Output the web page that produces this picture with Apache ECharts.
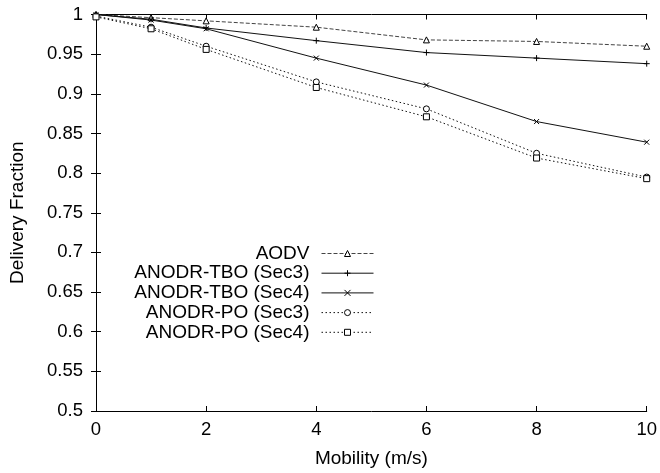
<!DOCTYPE html>
<html><head><meta charset="utf-8">
<script src="https://cdn.jsdelivr.net/npm/echarts@6/dist/echarts.min.js"></script>
<style>html,body{margin:0;padding:0;background:#fff}#c{width:660px;height:473px}</style>
</head><body><div id="c"></div>
<script>
var mobility = [0, 1, 2, 4, 6, 8, 10];
var aodv     = [1.000, 0.996, 0.992, 0.984, 0.968, 0.966, 0.960];
var tboSec3  = [1.000, 0.994, 0.983, 0.967, 0.952, 0.945, 0.938];
var tboSec4  = [1.000, 0.993, 0.982, 0.945, 0.911, 0.865, 0.839];
var poSec3   = [0.998, 0.984, 0.960, 0.915, 0.881, 0.825, 0.795];
var poSec4   = [0.997, 0.982, 0.956, 0.908, 0.871, 0.819, 0.793];
var names = ['AODV','ANODR-TBO (Sec3)','ANODR-TBO (Sec4)','ANODR-PO (Sec3)','ANODR-PO (Sec4)'];

function pts(arr){ return mobility.map(function(x,i){ return [x, arr[i]]; }); }
var FONT = '"Liberation Sans", Arial, sans-serif';
var plusPath = 'path://M5,0L5,10M0,5L10,5';
var crossPath = 'path://M0,0L10,10M10,0L0,10';

function mk(name, arr, sym, size, ltype, lcolor){
  return {
    name: name, type: 'line', data: pts(arr), symbol: sym, symbolSize: size,
    showSymbol: true,
    lineStyle: {color: lcolor, width: 1, type: ltype},
    itemStyle: {color: '#fff', borderColor: '#000', borderWidth: 1},
    emphasis: {disabled: true}, animation: false, z: 3
  };
}

var chart = echarts.init(document.getElementById('c'), null, {renderer: 'canvas'});
var tickCommon = {inside: true, length: 5, lineStyle: {color: '#000'}};
chart.setOption({
  backgroundColor: '#fff',
  animation: false,
  grid: {left: 95, right: 9, top: 14.5, bottom: 59},
  legend: {
    orient: 'vertical', align: 'right', right: 286, top: 244, padding: 0,
    itemWidth: 52, itemHeight: 7.5, itemGap: 0.7,
    itemStyle: {borderWidth: 1},
    lineStyle: {width: 1},
    textStyle: {fontFamily: FONT, fontSize: 19, color: '#000', padding: [0, 7, 0, 0]},
    data: names
  },
  xAxis: [{
    type: 'value', min: 0, max: 10, interval: 2,
    name: 'Mobility (m/s)', nameLocation: 'middle', nameGap: 38,
    nameTextStyle: {fontFamily: FONT, fontSize: 19, color: '#000'},
    axisLine: {lineStyle: {color: '#000', width: 1}},
    axisTick: tickCommon, splitLine: {show: false},
    axisLabel: {fontFamily: FONT, fontSize: 18.5, color: '#000', margin: 9}
  },{
    type: 'value', min: 0, max: 10, interval: 2, position: 'top',
    axisLine: {lineStyle: {color: '#000', width: 1}},
    axisTick: tickCommon, splitLine: {show: false}, axisLabel: {show: false}
  }],
  yAxis: [{
    type: 'value', min: 0.5, max: 1, interval: 0.05,
    name: 'Delivery Fraction', nameLocation: 'middle', nameGap: 69,
    nameTextStyle: {fontFamily: FONT, fontSize: 19, color: '#000'},
    axisLine: {show: true, lineStyle: {color: '#000', width: 1}},
    axisTick: {show: true, inside: true, length: 5, lineStyle: {color: '#000'}},
    splitLine: {show: false},
    axisLabel: {fontFamily: FONT, fontSize: 18.5, color: '#000', margin: 13,
      formatter: function(v){ return String(+v.toFixed(2)); }}
  },{
    type: 'value', min: 0.5, max: 1, interval: 0.05, position: 'right',
    axisLine: {show: true, lineStyle: {color: '#000', width: 1}},
    axisTick: {show: true, inside: true, length: 5, lineStyle: {color: '#000'}},
    splitLine: {show: false}, axisLabel: {show: false}
  }],
  series: [
    mk(names[0], aodv, 'triangle', 6, [4,2], '#444'),
    mk(names[1], tboSec3, plusPath, 6, 'solid', '#111'),
    mk(names[2], tboSec4, crossPath, 5, 'solid', '#111'),
    mk(names[3], poSec3, 'circle', 6, [1.5,2.5], '#111'),
    mk(names[4], poSec4, 'rect', 6, [1.5,2.5], '#111')
  ]
});
</script></body></html>
